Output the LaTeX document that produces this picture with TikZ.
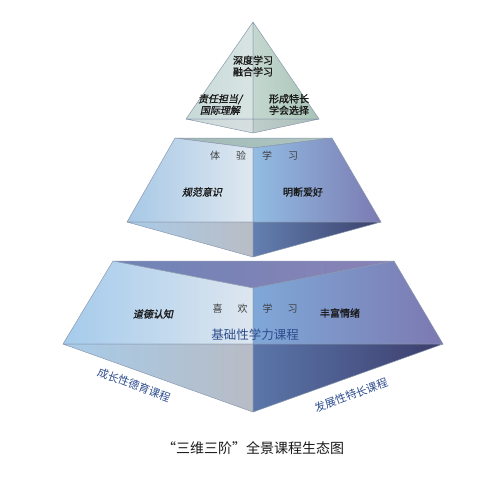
\documentclass[tikz,border=0pt]{standalone}
\usepackage{fontspec}
\setmainfont{Noto Sans CJK SC}
\newfontfamily\cjkbf[FakeBold=1.2]{Noto Sans CJK SC}
\newfontfamily\cjksl[FakeSlant=0.2, FakeBold=1.2]{Noto Sans CJK SC}
\usepackage{tikz}
\usetikzlibrary{positioning}

\definecolor{edgegray}{HTML}{8A98AE}
\definecolor{courseblue}{HTML}{2E4D8E}

\begin{document}
\begin{tikzpicture}[x=1pt, y=-1pt,
        face/.style={draw=edgegray, line width=0.5pt, line join=round},
        tag/.style={font=\cjkbf\fontsize{10}{11.5}\selectfont, text=black!90, align=center, inner sep=0pt},
        slanttag/.style={tag, font=\cjksl\fontsize{10}{11.5}\selectfont},
        spaced/.style={font=\fontsize{10}{12}\selectfont, text=black!75, inner sep=0pt},
        course/.style={font=\fontsize{11}{13}\selectfont, text=courseblue, inner sep=0pt},
        title/.style={font=\fontsize{14}{16}\selectfont, text=black!90}
    ]
        \useasboundingbox (0,0) rectangle (484,482);

        % top pyramid
        \coordinate (ta) at (253,22);
        \coordinate (tl) at (186,119);
        \coordinate (tr) at (319,119);
        \coordinate (tm) at (253,119);
        \coordinate (tb) at (253,133);

        % middle layer
        \coordinate (m1) at (175,138);
        \coordinate (m2) at (332,138);
        \coordinate (mf) at (253,148);
        \coordinate (ml) at (127,222);
        \coordinate (mr) at (381,222);
        \coordinate (mm) at (253,222);
        \coordinate (mb) at (253,257);

        % bottom layer
        \coordinate (b1) at (113,261);
        \coordinate (b2) at (394,261);
        \coordinate (bf) at (253,288);
        \coordinate (bl) at (63,344);
        \coordinate (br) at (443,344);
        \coordinate (bm) at (253,344);
        \coordinate (bb) at (253,412);

        \shade[face, left color={rgb,255:red,199;green,218;blue,216}, right color={rgb,255:red,216;green,228;blue,226}] (ta) -- (tl) -- (tm) -- cycle;
        \shade[face, left color={rgb,255:red,196;green,215;blue,207}, right color={rgb,255:red,168;green,196;blue,182}] (ta) -- (tm) -- (tr) -- cycle;
        \shade[face, left color={rgb,255:red,205;green,218;blue,218}, right color={rgb,255:red,214;green,222;blue,224}] (tl) -- (tm) -- (tb) -- cycle;
        \shade[face, left color={rgb,255:red,190;green,206;blue,202}, right color={rgb,255:red,170;green,190;blue,184}] (tm) -- (tr) -- (tb) -- cycle;

        \shade[face, left color={rgb,255:red,160;green,186;blue,182}, right color={rgb,255:red,176;green,198;blue,192}] (m1) -- (m2) -- (mf) -- cycle;
        \shade[face, left color={rgb,255:red,167;green,200;blue,230}, right color={rgb,255:red,223;green,232;blue,240}] (m1) -- (mf) -- (mm) -- (ml) -- cycle;
        \shade[face, left color={rgb,255:red,146;green,189;blue,227}, right color={rgb,255:red,123;green,122;blue,178}] (mf) -- (m2) -- (mr) -- (mm) -- cycle;
        \shade[face, left color={rgb,255:red,169;green,203;blue,232}, right color={rgb,255:red,185;green,189;blue,197}] (ml) -- (mm) -- (mb) -- cycle;
        \shade[face, left color={rgb,255:red,99;green,128;blue,176}, right color={rgb,255:red,60;green,64;blue,108}] (mm) -- (mr) -- (mb) -- cycle;

        \shade[face, left color={rgb,255:red,111;green,132;blue,182}, right color={rgb,255:red,138;green,130;blue,182}] (b1) -- (b2) -- (bf) -- cycle;
        \shade[face, left color={rgb,255:red,165;green,203;blue,236}, right color={rgb,255:red,221;green,230;blue,239}] (b1) -- (bf) -- (bm) -- (bl) -- cycle;
        \shade[face, left color={rgb,255:red,127;green,168;blue,216}, right color={rgb,255:red,124;green,121;blue,177}] (bf) -- (b2) -- (br) -- (bm) -- cycle;
        \shade[face, left color={rgb,255:red,167;green,203;blue,233}, right color={rgb,255:red,183;green,188;blue,197}] (bl) -- (bm) -- (bb) -- cycle;
        \shade[face, left color={rgb,255:red,91;green,118;blue,170}, right color={rgb,255:red,60;green,61;blue,108}] (bm) -- (br) -- (bb) -- cycle;

        \node[tag] (deep) at (253,66) {深度学习\\融合学习};
        \node[slanttag] (duty) at (220,104.5) {责任担当/\\国际理解};
        \node[tag] (talent) at (289,104.5) {形成特长\\学会选择};

        \node[spaced] (experience) at (254,156) {体\hspace{16pt}验\hspace{16pt}学\hspace{16pt}习};
        \node[slanttag] (norm) at (202,192) {规范意识};
        \node[tag] (taste) at (303,192) {明断爱好};

        \node[spaced] (enjoy) at (255,309) {喜\hspace{15pt}欢\hspace{15pt}学\hspace{15pt}习};
        \node[slanttag] (moral) at (153,314) {道德认知};
        \node[tag] (emotion) at (340,313) {丰富情绪};
        \node[course, font=\fontsize{12.5}{14}\selectfont] (basic) at (255,335) {基础性学力课程};

        \node[course, rotate=-21] (moralcourse) at (134,385) {成长性德育课程};
        \node[course, rotate=20] (talentcourse) at (351,395) {发展性特长课程};

        \node[title] (caption) at (253,448) {“三维三阶”全景课程生态图};

    \end{tikzpicture}
\end{document}
